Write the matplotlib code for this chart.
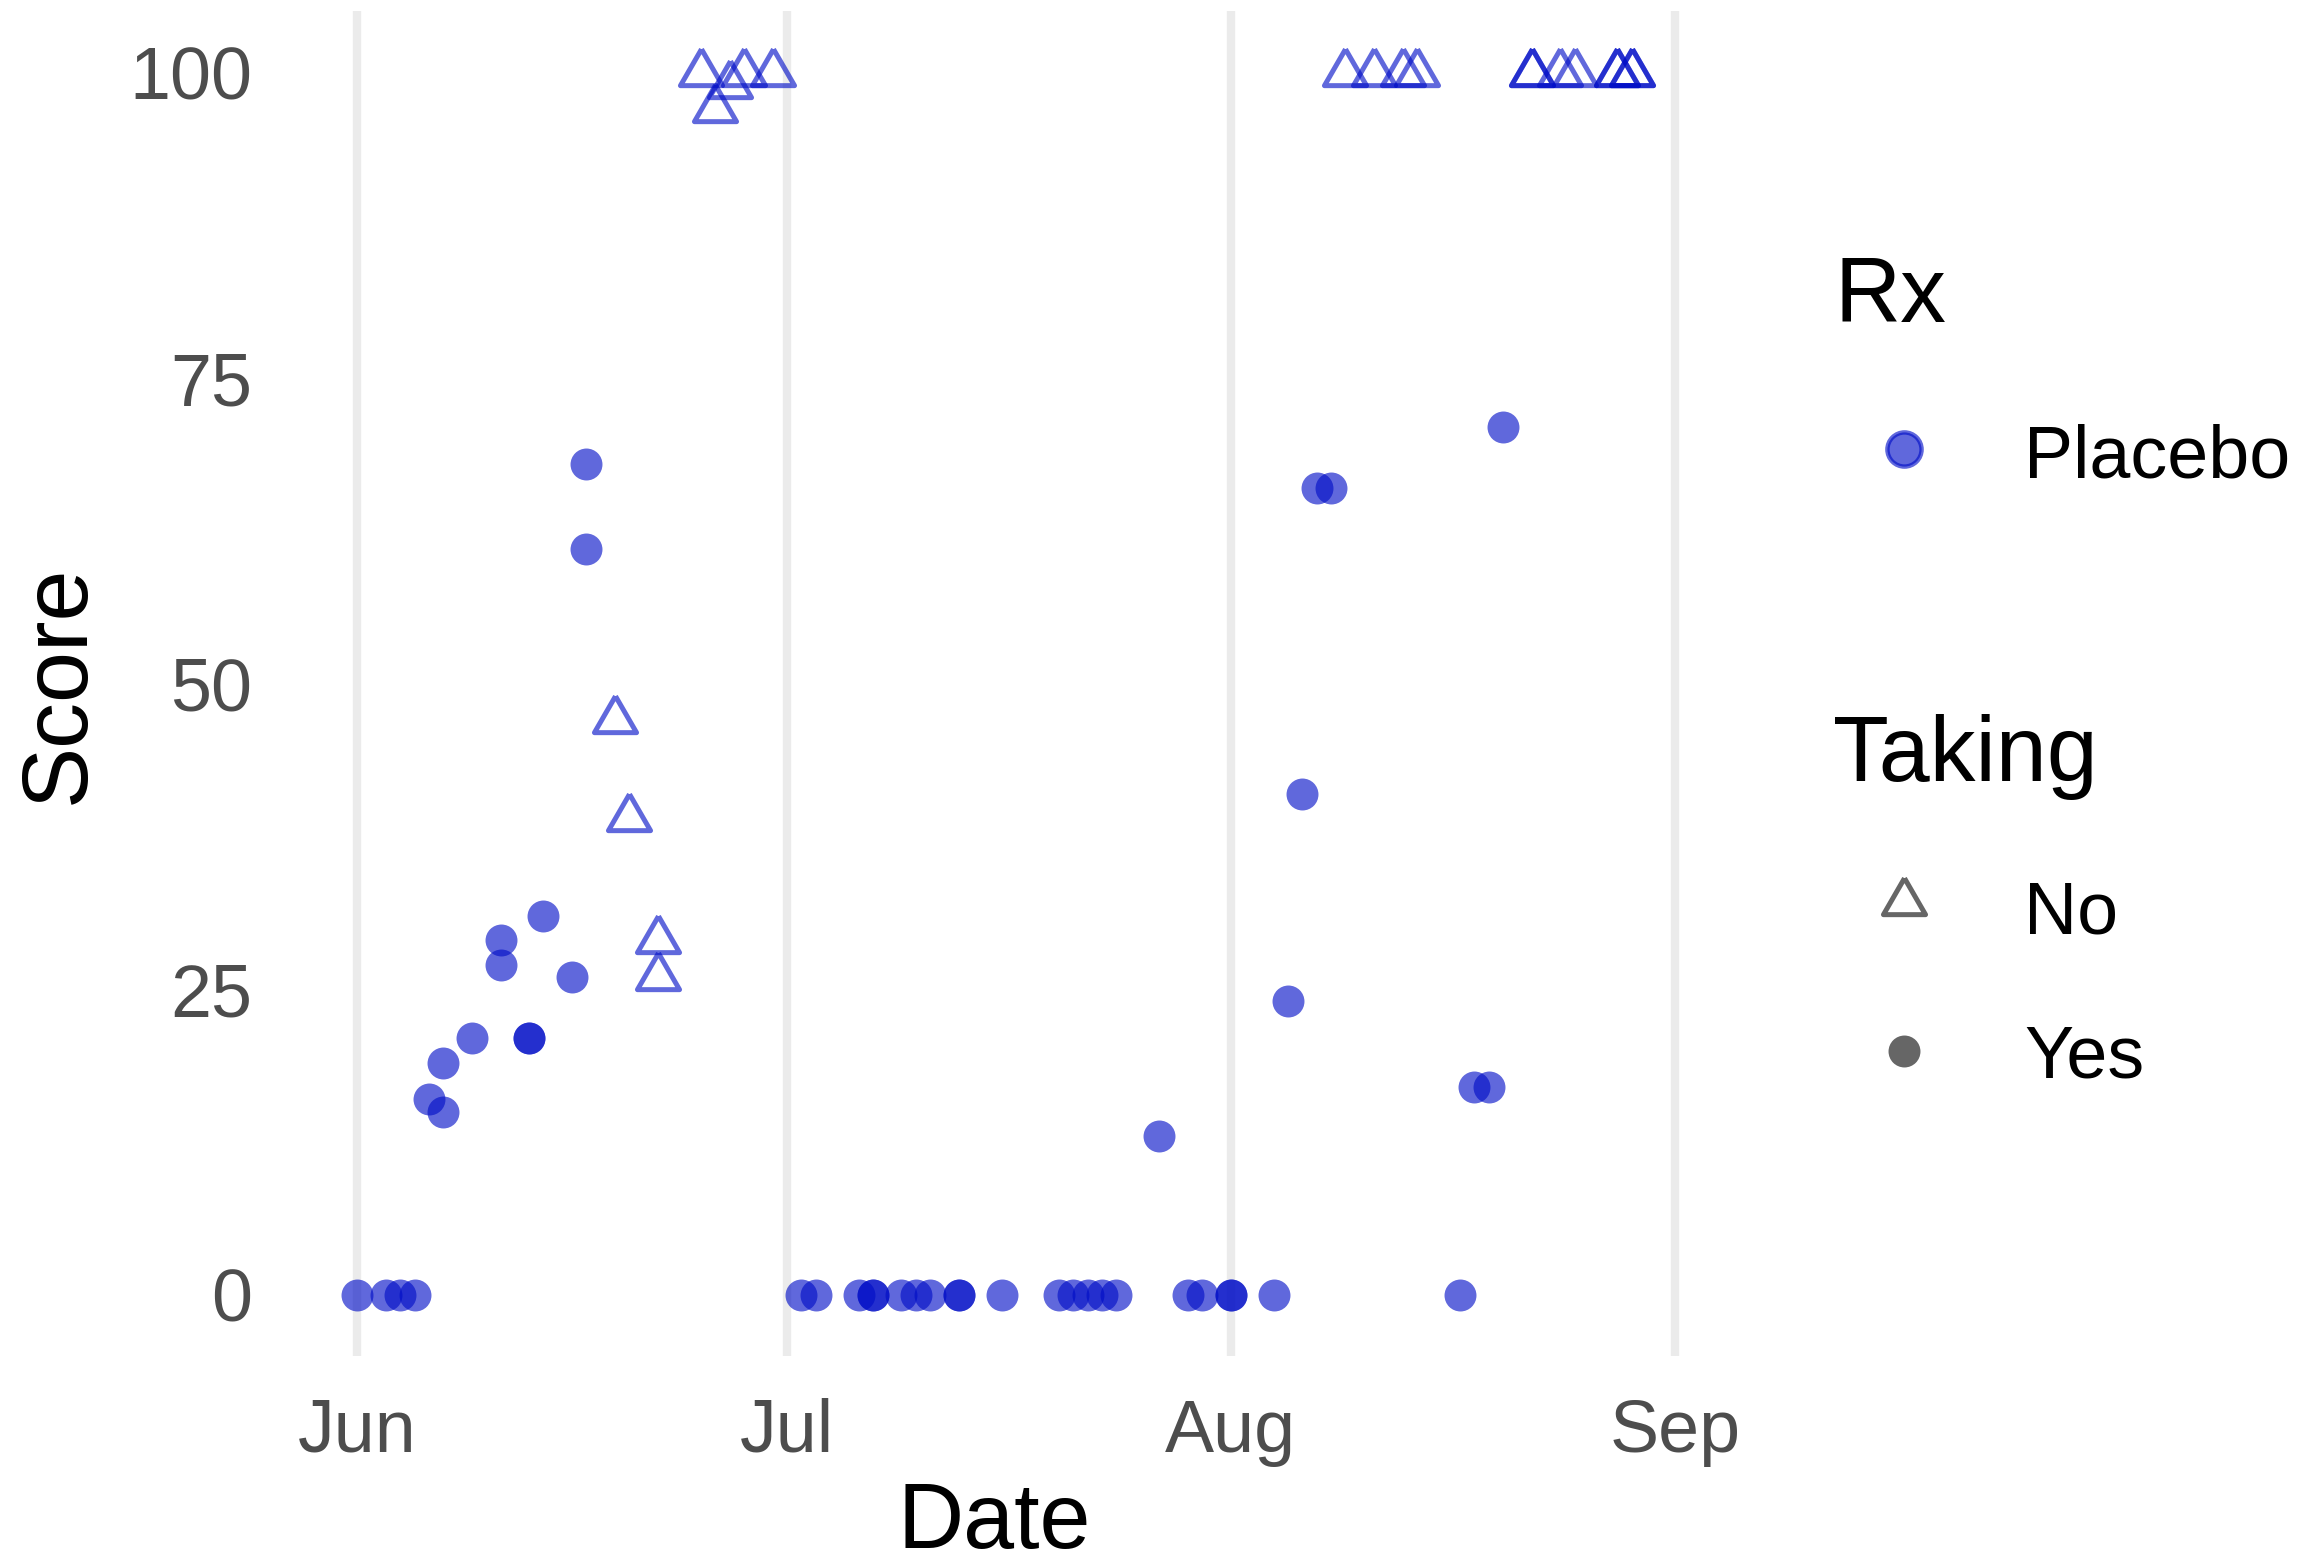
import matplotlib
matplotlib.use('Agg')
import matplotlib.pyplot as plt
import matplotlib.dates as mdates
from matplotlib.markers import MarkerStyle
import numpy as np

plt.rcParams['font.family'] = ['Liberation Sans', 'DejaVu Sans']

# Taking = Yes (filled circles)
yes_dates = ['2021-06-01', '2021-06-03', '2021-06-04', '2021-06-05',
             '2021-06-06', '2021-06-07', '2021-06-07', '2021-06-09',
             '2021-06-11', '2021-06-11', '2021-06-13', '2021-06-13',
             '2021-06-14', '2021-06-16', '2021-06-17', '2021-06-17',
             '2021-07-02', '2021-07-03', '2021-07-06', '2021-07-07', '2021-07-07',
             '2021-07-09', '2021-07-10', '2021-07-11', '2021-07-13', '2021-07-13',
             '2021-07-16', '2021-07-20', '2021-07-21', '2021-07-22', '2021-07-23',
             '2021-07-24', '2021-07-27', '2021-07-29', '2021-07-30',
             '2021-08-01', '2021-08-01', '2021-08-04', '2021-08-05', '2021-08-06',
             '2021-08-07', '2021-08-08', '2021-08-17', '2021-08-18', '2021-08-19',
             '2021-08-20']
yes_scores = [0, 0, 0, 0,
              16, 15, 19, 21,
              29, 27, 21, 21,
              31, 26, 68, 61,
              0, 0, 0, 0, 0,
              0, 0, 0, 0, 0,
              0, 0, 0, 0, 0,
              0, 13, 0, 0,
              0, 0, 0, 24, 41,
              66, 66, 0, 17, 17,
              71]

# Taking = No (open triangles)
no_dates = ['2021-06-19', '2021-06-20', '2021-06-22', '2021-06-22',
            '2021-06-25', '2021-06-26', '2021-06-27', '2021-06-28', '2021-06-30',
            '2021-08-09', '2021-08-11', '2021-08-13', '2021-08-14',
            '2021-08-22', '2021-08-22', '2021-08-24', '2021-08-25',
            '2021-08-28', '2021-08-28', '2021-08-29', '2021-08-29']
no_scores = [47, 39, 29, 26,
             100, 97, 99, 100, 100,
             100, 100, 100, 100,
             100, 100, 100, 100,
             100, 100, 100, 100]

month_ticks = ['2021-06-01', '2021-07-01', '2021-08-01', '2021-09-01']
y_ticks = [0, 25, 50, 75, 100]

col = (0 / 255, 13 / 255, 199 / 255, 0.625)
tick_col = '#4D4D4D'

yes_d = np.array(yes_dates, dtype='datetime64[D]')
no_d = np.array(no_dates, dtype='datetime64[D]')

# equilateral triangle like R's pch 2
tri = MarkerStyle([(0, 1.5551), (1.3468, -0.7776), (-1.3468, -0.7776), (0, 1.5551)],
                  joinstyle='round')

fig = plt.figure(figsize=(11.55, 7.81), dpi=200)
ax = fig.add_axes([0.1271, 0.1319, 0.6069, 0.8608])

ax.plot(yes_d, yes_scores, linestyle='none', marker='o', markersize=11.5,
        markerfacecolor=col, markeredgewidth=0, zorder=3)
for d, s in zip(no_d, no_scores):
    ax.plot([d], [s], linestyle='none', marker=tri, markersize=17.5,
            markerfacecolor='none', markeredgecolor=col, markeredgewidth=1.8, zorder=3)

all_num = mdates.date2num(np.concatenate([yes_d, no_d]))
lo, hi = all_num.min(), all_num.max()
pad = 0.05 * (hi - lo)
ax.set_xlim(lo - pad, hi + pad)
ax.set_ylim(-5, 105)

ax.set_xticks(mdates.date2num(np.array(month_ticks, dtype='datetime64[D]')))
ax.xaxis.set_major_formatter(mdates.DateFormatter('%b'))
ax.set_yticks(y_ticks)
ax.grid(axis='x', color='#EBEBEB', linewidth=3.0, zorder=0)
ax.set_axisbelow(True)
for sp in ax.spines.values():
    sp.set_visible(False)
ax.tick_params(axis='both', length=0, labelsize=26.5, labelcolor=tick_col)
ax.tick_params(axis='x', pad=15)
ax.tick_params(axis='y', pad=15)

fig.text(0.0072, 0.5621, 'Score', rotation=90, ha='left', va='center', fontsize=33)
fig.text(0.4306, 0.0090, 'Date', ha='center', va='baseline', fontsize=33)

# legend drawn by hand in pixel coordinates
lax = fig.add_axes([0, 0, 1, 1])
lax.set_xlim(0, 2310)
lax.set_ylim(1562, 0)
lax.axis('off')

lax.text(1834, 322, 'Rx', fontsize=33, va='baseline', ha='left')
lax.plot([1904], [449], linestyle='none', marker='o', markersize=12.3,
         markerfacecolor=col, markeredgecolor=col, markeredgewidth=1.6)
lax.text(2024, 477, 'Placebo', fontsize=26.5, va='baseline', ha='left')

lax.text(1833, 781, 'Taking', fontsize=33, va='baseline', ha='left')
grey = (0, 0, 0, 0.6)
lax.plot([1904], [902], linestyle='none', marker=tri, markersize=17.5,
         markerfacecolor='none', markeredgecolor=grey, markeredgewidth=1.8)
lax.text(2024, 933, 'No', fontsize=26.5, va='baseline', ha='left')
lax.plot([1904], [1051], linestyle='none', marker='o', markersize=11.5,
         markerfacecolor=grey, markeredgewidth=0)
lax.text(2024, 1077, 'Yes', fontsize=26.5, va='baseline', ha='left')

fig.savefig('out.png', dpi=200)
